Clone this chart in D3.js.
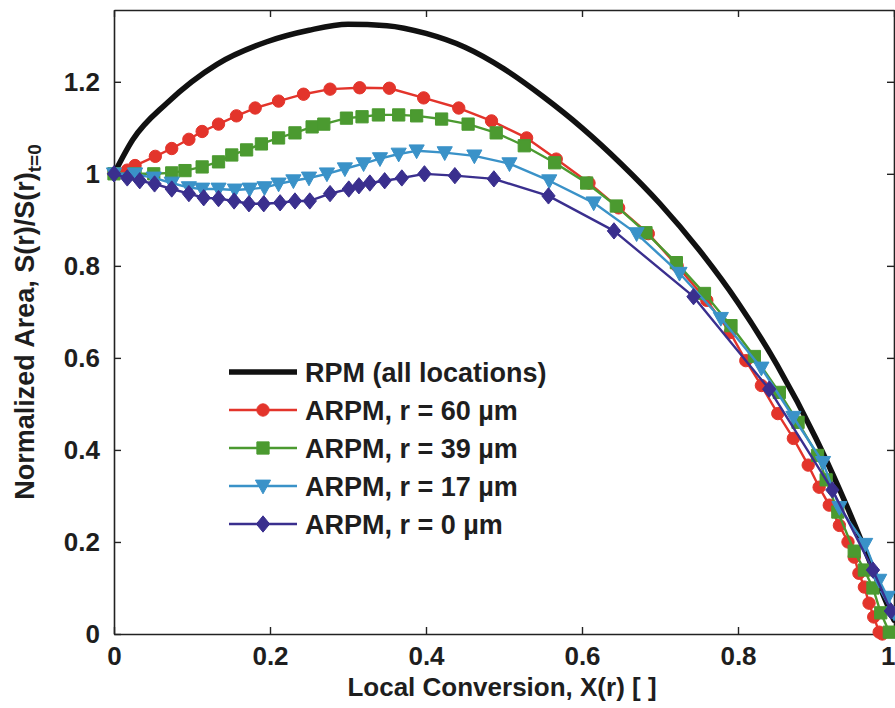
<!DOCTYPE html>
<html>
<head>
<meta charset="utf-8">
<script src="https://cdn.jsdelivr.net/npm/d3@7"></script>
<style>
  html, body { margin: 0; padding: 0; background: #ffffff; }
  svg { display: block; }
  text { font-family: "Liberation Sans", Arial, Helvetica, sans-serif; font-weight: bold; fill: #1e1e1e; }
</style>
</head>
<body>
<svg id="chart" width="895" height="708"></svg>
<script>
// ---------------- data ----------------
const xTicks = [0, 0.2, 0.4, 0.6, 0.8, 1];
const yTicks = [0, 0.2, 0.4, 0.6, 0.8, 1, 1.2];
const xTickLabels = ["0", "0.2", "0.4", "0.6", "0.8", "1"];
const yTickLabels = ["0", "0.2", "0.4", "0.6", "0.8", "1", "1.2"];

const seriesNames = ["RPM (all locations)", "ARPM, r = 60 \u00b5m", "ARPM, r = 39 \u00b5m", "ARPM, r = 17 \u00b5m", "ARPM, r = 0 \u00b5m"];

const rpmX = [0, 0.024, 0.068, 0.132, 0.196, 0.25, 0.3, 0.35, 0.4, 0.45, 0.5, 0.55, 0.6, 0.65, 0.7, 0.75, 0.8, 0.85, 0.9, 0.93, 0.96, 0.98, 1.0];
const rpmY = [1.0, 1.074, 1.154, 1.238, 1.287, 1.312, 1.325, 1.322, 1.305, 1.275, 1.228, 1.168, 1.1, 1.022, 0.935, 0.835, 0.72, 0.585, 0.425, 0.315, 0.195, 0.11, 0.03];

const r60X = [0, 0.017, 0.027, 0.053, 0.074, 0.096, 0.113, 0.134, 0.157, 0.181, 0.211, 0.243, 0.277, 0.315, 0.353, 0.397, 0.442, 0.484, 0.529, 0.567, 0.609, 0.647, 0.685, 0.722, 0.76, 0.79, 0.81, 0.83, 0.851, 0.871, 0.89, 0.904, 0.917, 0.93, 0.941, 0.949, 0.955, 0.962, 0.968, 0.974, 0.981, 0.985];
const r60Y = [1.0, 1.008, 1.018, 1.038, 1.055, 1.075, 1.092, 1.108, 1.126, 1.143, 1.158, 1.173, 1.184, 1.187, 1.186, 1.165, 1.143, 1.115, 1.078, 1.032, 0.98, 0.926, 0.87, 0.8, 0.725, 0.655, 0.594, 0.54, 0.479, 0.425, 0.367, 0.319, 0.28, 0.236, 0.2, 0.167, 0.132, 0.102, 0.067, 0.037, 0.004, 0.0];

const r39X = [0, 0.027, 0.051, 0.074, 0.091, 0.113, 0.134, 0.151, 0.17, 0.189, 0.211, 0.232, 0.254, 0.269, 0.298, 0.318, 0.339, 0.365, 0.388, 0.42, 0.454, 0.49, 0.526, 0.565, 0.606, 0.644, 0.682, 0.721, 0.757, 0.791, 0.821, 0.853, 0.877, 0.902, 0.913, 0.928, 0.949, 0.962, 0.973, 0.983, 0.994];
const r39Y = [1.0, 1.0, 1.0, 1.002, 1.007, 1.015, 1.026, 1.041, 1.052, 1.065, 1.078, 1.089, 1.102, 1.108, 1.121, 1.124, 1.128, 1.128, 1.126, 1.119, 1.108, 1.089, 1.061, 1.024, 0.98, 0.93, 0.872, 0.807, 0.74, 0.67, 0.603, 0.525, 0.46, 0.388, 0.335, 0.265, 0.18, 0.139, 0.1, 0.046, 0.004];

const r17X = [0, 0.027, 0.051, 0.074, 0.096, 0.113, 0.134, 0.155, 0.174, 0.193, 0.211, 0.23, 0.25, 0.273, 0.296, 0.32, 0.341, 0.365, 0.388, 0.424, 0.462, 0.507, 0.558, 0.615, 0.67, 0.725, 0.778, 0.83, 0.871, 0.909, 0.93, 0.963, 0.981, 0.992, 1.0];
const r17Y = [1.0, 1.0, 0.991, 0.98, 0.97, 0.967, 0.967, 0.965, 0.967, 0.97, 0.978, 0.985, 0.991, 1.0, 1.011, 1.022, 1.033, 1.043, 1.05, 1.046, 1.039, 1.022, 0.985, 0.937, 0.87, 0.784, 0.686, 0.578, 0.471, 0.373, 0.275, 0.195, 0.117, 0.08, 0.046];

const r0X = [0, 0.017, 0.033, 0.052, 0.074, 0.096, 0.115, 0.134, 0.154, 0.173, 0.192, 0.213, 0.232, 0.251, 0.277, 0.301, 0.314, 0.328, 0.347, 0.369, 0.398, 0.437, 0.487, 0.557, 0.641, 0.743, 0.84, 0.921, 0.973, 0.996];
const r0Y = [1.0, 0.991, 0.985, 0.978, 0.967, 0.957, 0.948, 0.946, 0.941, 0.935, 0.935, 0.937, 0.941, 0.941, 0.957, 0.967, 0.974, 0.98, 0.985, 0.991, 1.0, 0.996, 0.989, 0.952, 0.876, 0.733, 0.532, 0.313, 0.139, 0.05];

// ---------------- layout ----------------
const svg = d3.select("#chart");
const pLeft = 114, pRight = 894, pTop = 10, pBottom = 634;
const x = d3.scaleLinear().domain([0, 1]).range([pLeft, pRight]);
const y = d3.scaleLinear().domain([0, 1.356]).range([pBottom, pTop]);

// custom MATLAB-like marker shapes
const downTriangle = { draw(ctx, size) { const s = Math.sqrt(size); const h = s * 0.95; ctx.moveTo(-s * 0.55, -h * 0.45); ctx.lineTo(s * 0.55, -h * 0.45); ctx.lineTo(0, h * 0.6); ctx.closePath(); } };
const diamond = { draw(ctx, size) { const s = Math.sqrt(size); ctx.moveTo(0, -s * 0.55); ctx.lineTo(s * 0.45, 0); ctx.lineTo(0, s * 0.55); ctx.lineTo(-s * 0.45, 0); ctx.closePath(); } };

const series = [
  { name: seriesNames[0], xs: rpmX, ys: rpmY, color: "#111111", width: 5.5, symbol: null, size: 0, curve: d3.curveMonotoneX },
  { name: seriesNames[1], xs: r60X, ys: r60Y, color: "#e3342b", width: 2.4, symbol: d3.symbolCircle, size: 120, curve: d3.curveLinear },
  { name: seriesNames[2], xs: r39X, ys: r39Y, color: "#4b9a30", width: 2.4, symbol: d3.symbolSquare, size: 150, curve: d3.curveLinear },
  { name: seriesNames[3], xs: r17X, ys: r17Y, color: "#3a92c8", width: 2.4, symbol: downTriangle, size: 190, curve: d3.curveLinear },
  { name: seriesNames[4], xs: r0X, ys: r0Y, color: "#3a2f8e", width: 2.4, symbol: diamond, size: 220, curve: d3.curveLinear }
];

// axes (MATLAB box, inward ticks)
const tickLen = 7;
function styleAxis(g) {
  g.select(".domain").attr("stroke", "#222").attr("stroke-width", 1.6);
  g.selectAll(".tick line").attr("stroke", "#222").attr("stroke-width", 1.4);
  g.selectAll(".tick text").attr("font-size", 26).attr("fill", "#1e1e1e")
    .attr("font-family", "'Liberation Sans', Arial, sans-serif").attr("font-weight", "bold");
}
svg.append("g").attr("transform", `translate(0,${pBottom})`)
  .call(d3.axisBottom(x).tickValues(xTicks).tickFormat((d, i) => xTickLabels[i]).tickSizeInner(-tickLen).tickSizeOuter(0).tickPadding(13))
  .call(styleAxis)
  .call(g => g.selectAll(".tick text").filter(d => d === 1).attr("text-anchor", "end").attr("x", 1));
svg.append("g").attr("transform", `translate(0,${pTop})`)
  .call(d3.axisTop(x).tickValues(xTicks).tickFormat("").tickSizeInner(-tickLen).tickSizeOuter(0))
  .call(styleAxis);
svg.append("g").attr("transform", `translate(${pLeft},0)`)
  .call(d3.axisLeft(y).tickValues(yTicks).tickFormat((d, i) => yTickLabels[i]).tickSizeInner(-tickLen).tickSizeOuter(0).tickPadding(14))
  .call(styleAxis);
svg.append("g").attr("transform", `translate(${pRight},0)`)
  .call(d3.axisRight(y).tickValues(yTicks).tickFormat("").tickSizeInner(-tickLen).tickSizeOuter(0))
  .call(styleAxis);

// series
const plot = svg.append("g");
series.forEach(s => {
  const pts = s.xs.map((v, i) => [v, s.ys[i]]);
  const line = d3.line().x(d => x(d[0])).y(d => y(d[1])).curve(s.curve);
  plot.append("path").datum(pts).attr("d", line)
    .attr("fill", "none").attr("stroke", s.color).attr("stroke-width", s.width)
    .attr("stroke-linejoin", "round").attr("stroke-linecap", "round");
  if (s.symbol) {
    const sym = d3.symbol().type(s.symbol).size(s.size);
    plot.append("g").selectAll("path").data(pts).join("path")
      .attr("transform", d => `translate(${x(d[0])},${y(d[1])})`)
      .attr("d", sym).attr("fill", s.color).attr("stroke", s.color).attr("stroke-width", 1);
  }
});

// legend
const legX0 = 229, legX1 = 297, legText = 305;
const legRows = [372, 410, 448, 486, 524];
const leg = svg.append("g");
series.forEach((s, i) => {
  const yy = legRows[i];
  leg.append("line").attr("x1", legX0).attr("x2", legX1).attr("y1", yy).attr("y2", yy)
    .attr("stroke", s.color).attr("stroke-width", s.width);
  if (s.symbol) {
    leg.append("path").attr("transform", `translate(${(legX0 + legX1) / 2},${yy})`)
      .attr("d", d3.symbol().type(s.symbol).size(s.size)).attr("fill", s.color).attr("stroke", s.color);
  }
  leg.append("text").attr("x", legText).attr("y", yy + 10).attr("font-size", 27).text(s.name);
});

// axis labels
svg.append("text").attr("x", (pLeft + pRight) / 2 - 2).attr("y", 696).attr("text-anchor", "middle")
  .attr("font-size", 26).text("Local Conversion, X(r) [ ]");

const yl = svg.append("text").attr("transform", "translate(34,322) rotate(-90)").attr("text-anchor", "middle").attr("font-size", 27);
yl.append("tspan").text("Normalized Area, S(r)/S(r)");
yl.append("tspan").attr("font-size", 19).attr("dy", 7).text("t=0");
</script>
</body>
</html>
